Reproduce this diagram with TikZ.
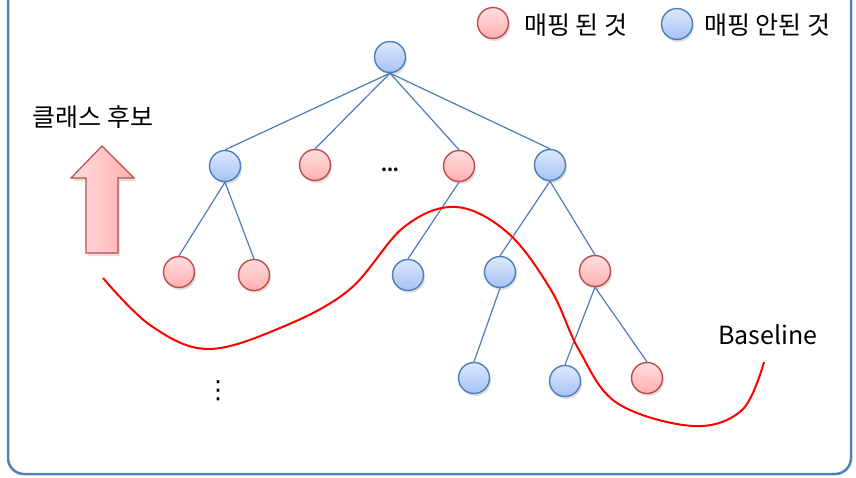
\documentclass[tikz,border=0pt]{standalone}
\usepackage{fontspec}
\setmainfont{Noto Sans CJK KR}
\newfontfamily\symfont{DejaVu Sans}
\definecolor{framblue}{RGB}{79,129,189}
\definecolor{edgeblue}{RGB}{74,126,187}
\definecolor{bluetop}{RGB}{222,232,252}
\definecolor{bluebot}{RGB}{166,194,245}
\definecolor{redline}{RGB}{190,75,72}
\definecolor{redtop}{RGB}{255,222,222}
\definecolor{redbot}{RGB}{255,176,176}
\usepackage{tikz}
\usetikzlibrary{shadows,calc}

\begin{document}
\begin{tikzpicture}[x=1pt, y=-1pt,
    vtx/.style={circle, minimum size=31pt, inner sep=0pt, line width=1.4pt,
                drop shadow={opacity=0.25, shadow xshift=1.5pt, shadow yshift=-2.5pt}},
    mapped/.style={vtx, draw=redline, top color=redtop, bottom color=redbot},
    unmapped/.style={vtx, draw=edgeblue, top color=bluetop, bottom color=bluebot},
    link/.style={draw=edgeblue, line width=1.2pt},
    lbl/.style={font=\fontsize{25}{28}\selectfont, inner sep=0pt}]
  \useasboundingbox (0,0) rectangle (856,477);
  \draw[framblue, line width=2.5pt, rounded corners=16pt] (8,-20) rectangle (851,474);

  % legend
  \node[mapped] (legred) at (493,23) {};
  \node[lbl, anchor=west] (legredtxt) at (524,25) {매핑 된 것};
  \node[unmapped] (legblue) at (677,24) {};
  \node[lbl, anchor=west] (legbluetxt) at (704,25) {매핑 안된 것};

  % tree
  \node[unmapped] (root) at (390,57) {};
  \node[unmapped] (a) at (225,166) {};
  \node[mapped] (b) at (315,165) {};
  \node[font=\fontsize{17}{18}\selectfont\bfseries, inner sep=0pt] (hdots) at (390,170) {...};
  \node[mapped] (c) at (459,166) {};
  \node[unmapped] (d) at (550,165) {};
  \node[mapped] (a1) at (179,272) {};
  \node[mapped] (a2) at (254,275) {};
  \node[unmapped] (c1) at (408,275) {};
  \node[unmapped] (d1) at (500,272) {};
  \node[mapped] (d2) at (595,271) {};
  \node[unmapped] (d1a) at (474,378) {};
  \node[unmapped] (d2a) at (565,381) {};
  \node[mapped] (d2b) at (647,378) {};
  \node[font=\fontsize{25}{26}\selectfont\symfont, inner sep=0pt]
    (vdot) at (218,391) {⋮};

  \foreach \p/\q in {root/a, root/b, root/c, root/d, a/a1, a/a2, c/c1,
                     d/d1, d/d2, d1/d1a, d2/d2a, d2/d2b}
    \draw[link] (\p.south) -- (\q.north);

  % class candidate arrow
  \draw[redline, line width=1.2pt, left color=redtop, right color=redbot,
        drop shadow={opacity=0.25, shadow xshift=2pt, shadow yshift=-3pt}]
    (102,146) -- (134,178) -- (118,178) -- (118,253) -- (86,253) -- (86,178)
    -- (71,178) -- cycle;
  \node[lbl] (cand) at (93,117) {클래스 후보};

  % baseline
  \node[lbl] (base) at (768,335) {Baseline};
  \draw[red, line width=2pt] plot[smooth, tension=0.6] coordinates {
    (103,278) (150,325) (207,349) (280,328) (349,290) (404,227) (456,207)
    (508,233) (551,290) (579,350) (617,403) (693,426) (742,410) (764,362)};
\end{tikzpicture}
\end{document}
